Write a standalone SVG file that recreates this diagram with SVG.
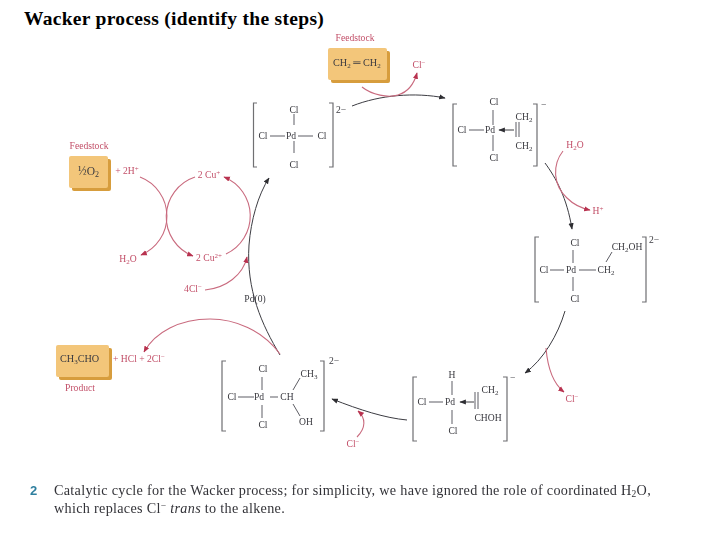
<svg xmlns="http://www.w3.org/2000/svg" width="720" height="540" viewBox="0 0 720 540">
<style>
text{font-family:"Liberation Serif","Times New Roman",serif}
.c{font-size:9.6px;fill:#3a3a40;text-anchor:middle}
.l{font-size:9.6px;fill:#3a3a40}
.m{font-size:10.2px;fill:#3a3a40}
.r{font-size:9.6px;fill:#c24f68;text-anchor:middle}
.rs{font-size:9.6px;fill:#c24f68}
.b{stroke:#6f6f72;stroke-width:1.2;fill:none}
.n{stroke:#4c4c52;stroke-width:.9;fill:none}
.k{stroke:#3c3c42;stroke-width:1;fill:none}
.p{stroke:#c96a7e;stroke-width:1.1;fill:none}
.t{fill:#f3c67a}.s{fill:#d79d3c}
.cap{font-size:14.2px;fill:#333338;letter-spacing:.3px}
</style>
<defs>
<marker id="ak" viewBox="0 0 10 10" refX="9" refY="5" markerWidth="6.5" markerHeight="6.5" orient="auto" markerUnits="userSpaceOnUse"><path d="M0 1L10 5L0 9Z" fill="#2e2e33"/></marker>
<marker id="ar" viewBox="0 0 10 10" refX="9" refY="5" markerWidth="6.5" markerHeight="6.5" orient="auto" markerUnits="userSpaceOnUse"><path d="M0 1L10 5L0 9Z" fill="#b8324f"/></marker>
<filter id="soft" x="-2%" y="-2%" width="104%" height="104%"><feGaussianBlur stdDeviation="0.35"/></filter>
</defs>
<text id="title" x="24" y="25" font-size="19.5" font-weight="bold" fill="#000" letter-spacing=".3">Wacker process (identify the steps)</text>
<g filter="url(#soft)">
<g id="connectors">
<path class="k" marker-end="url(#ak)" d="M352 106C380 95 415 92 445 98"/>
<path class="k" marker-end="url(#ak)" d="M545 163C556 178 567 198 572 229"/>
<path class="k" marker-end="url(#ak)" d="M565 311C558 335 543 360 525 373"/>
<path class="k" marker-end="url(#ak)" d="M407 420C385 418 360 410 332 399"/>
<path class="k" marker-end="url(#ak)" d="M280 355C262 325 246 290 249 245C251 220 258 195 269 178"/>
<path class="p" marker-end="url(#ar)" d="M362 87C372 95 388 98 398 95C408 92 414 84 417 73"/>
<path class="p" marker-end="url(#ar)" d="M563 151C552 165 553 185 567 198C572 203 580 208 590 210"/>
<path class="p" marker-end="url(#ar)" d="M546 348C548 372 555 385 564 392"/>
<path class="p" marker-end="url(#ar)" d="M357 437C366 428 366 418 358 411"/>
<path class="p" marker-end="url(#ar)" d="M280 354C262 330 235 319 210 319C180 319 155 332 144 352"/>
<path class="p" marker-end="url(#ar)" d="M140 177A42 42 0 0 1 141 255"/>
<path class="p" marker-end="url(#ar)" d="M195 177A42 42 0 0 0 193 256"/>
<path class="p" marker-end="url(#ar)" d="M226 254A42 42 0 0 0 224 177"/>
<path class="p" marker-end="url(#ar)" d="M205 290C226 288 243 275 247 257"/>
</g>
<g id="feedstock-top">
<text class="r" x="355" y="41">Feedstock</text>
<rect class="s" x="331" y="51" width="59" height="32" rx="2"/>
<rect class="t" x="328" y="48" width="59" height="32" rx="2"/>
<text class="m" x="333" y="66">CH<tspan font-size="7" dy="2">2</tspan><tspan dy="-2"> ═ CH</tspan><tspan font-size="7" dy="2">2</tspan></text>
</g>
<text class="r" x="419" y="68">Cl<tspan font-size="7" dy="-3">−</tspan></text>
<g id="complex-1">
<path class="b" d="M257 103H253.500V167H257M329 103H333V167H329"/>
<path class="n" d="M294 114V125M294 141V153M270 136H285M298 136H313"/>
<text class="c" x="294" y="113">Cl</text><text class="c" x="263" y="139">Cl</text><text class="c" x="291" y="139">Pd</text><text class="c" x="322" y="139">Cl</text><text class="c" x="294" y="168">Cl</text>
<text class="l" x="336" y="113">2−</text>
</g>
<g id="complex-2">
<path class="b" d="M457 104H453V166H457M533 104H537V166H533"/>
<path class="n" d="M493 110V125M493 135V151M469 130H484M516 122V137M519 122V137"/>
<path class="k" marker-end="url(#ak)" d="M514 130H499"/>
<text class="c" x="494" y="105">Cl</text><text class="c" x="462" y="133">Cl</text><text class="c" x="490" y="133">Pd</text>
<text class="c" x="524" y="120">CH<tspan font-size="7" dy="2">2</tspan></text><text class="c" x="524" y="149">CH<tspan font-size="7" dy="2">2</tspan></text>
<text class="c" x="494" y="161">Cl</text><text class="l" x="541" y="108">−</text>
</g>
<text class="r" x="575" y="148">H<tspan font-size="7" dy="2">2</tspan><tspan dy="-2">O</tspan></text>
<text class="r" x="598" y="214">H<tspan font-size="7" dy="-3">+</tspan></text>
<g id="complex-3">
<path class="b" d="M539 237H535V302H539M642 237H646V302H642"/>
<path class="n" d="M573 250V263M573 277V291M550 270H564M579 270H596M606 262L612 252"/>
<text class="c" x="575" y="246">Cl</text><text class="c" x="544" y="273">Cl</text><text class="c" x="571" y="273">Pd</text>
<text class="c" x="606" y="273">CH<tspan font-size="7" dy="2">2</tspan></text>
<text class="c" x="627" y="250">CH<tspan font-size="7" dy="2">2</tspan><tspan dy="-2">OH</tspan></text>
<text class="c" x="575" y="302">Cl</text><text class="l" x="649" y="243">2−</text>
</g>
<text class="r" x="572" y="402">Cl<tspan font-size="7" dy="-3">−</tspan></text>
<g id="complex-4">
<path class="b" d="M417 377H413V441H417M503 377H507V441H503"/>
<path class="n" d="M452 381V395M452 410V424M429 402H443M475 392V409M478 392V409"/>
<path class="k" marker-end="url(#ak)" d="M474 402H460"/>
<text class="c" x="452" y="378">H</text><text class="c" x="422" y="405">Cl</text><text class="c" x="450" y="405">Pd</text>
<text class="c" x="490" y="393">CH<tspan font-size="7" dy="2">2</tspan></text><text class="c" x="488" y="421">CHOH</text>
<text class="c" x="453" y="434">Cl</text><text class="l" x="510" y="381">−</text>
</g>
<text class="r" x="353" y="447">Cl<tspan font-size="7" dy="-3">−</tspan></text>
<g id="complex-5">
<path class="b" d="M226 361H222V431H226M320 361H324V431H320"/>
<path class="n" d="M262 377V390M262 405V418M238 397H254M270 397H278M293 390L300 378M293 404L300 416"/>
<text class="c" x="263" y="372">Cl</text><text class="c" x="232" y="400">Cl</text><text class="c" x="259" y="400">Pd</text><text class="c" x="287" y="400">CH</text>
<text class="c" x="309" y="377">CH<tspan font-size="7" dy="2">3</tspan></text><text class="c" x="306" y="425">OH</text><text class="c" x="263" y="428">Cl</text>
<text class="l" x="329" y="364">2−</text>
</g>
<g id="feedstock-left">
<text class="r" x="89" y="149">Feedstock</text>
<rect class="s" x="72" y="159" width="39" height="32" rx="2"/>
<rect class="t" x="69" y="156" width="39" height="32" rx="2"/>
<text x="78" y="175" font-size="11.5" fill="#3a3a40">½O<tspan font-size="8" dy="2">2</tspan></text>
</g>
<text class="r" x="127" y="174">+ 2H<tspan font-size="7" dy="-3">+</tspan></text>
<text class="r" x="209" y="178">2 Cu<tspan font-size="7" dy="-3">+</tspan></text>
<text class="r" x="128" y="262">H<tspan font-size="7" dy="2">2</tspan><tspan dy="-2">O</tspan></text>
<text class="r" x="209" y="261">2 Cu<tspan font-size="7" dy="-3">2+</tspan></text>
<text class="r" x="193" y="292">4Cl<tspan font-size="7" dy="-3">−</tspan></text>
<text class="c" x="255" y="302">Pd(0)</text>
<g id="product">
<rect class="s" x="59" y="348" width="53" height="32" rx="2"/>
<rect class="t" x="56" y="345" width="53" height="32" rx="2"/>
<text class="m" x="60" y="362">CH<tspan font-size="7" dy="2">3</tspan><tspan dy="-2">CHO</tspan></text>
<text class="r" x="80" y="391">Product</text>
</g>
<text class="rs" x="113" y="362">+ HCl + 2Cl<tspan font-size="7" dy="-3">−</tspan></text>
<g id="caption">
<text x="30" y="495" font-size="13" font-weight="bold" fill="#2f7f9f" style="font-family:'Liberation Sans',sans-serif">2</text>
<text class="cap" x="54" y="495">Catalytic cycle for the Wacker process; for simplicity, we have ignored the role of coordinated H<tspan font-size="9.500" dy="2">2</tspan><tspan dy="-2">O,</tspan></text>
<text class="cap" x="54" y="513">which replaces Cl<tspan font-size="9.500" dy="-4">−</tspan><tspan dy="4"> </tspan><tspan font-style="italic">trans</tspan> to the alkene.</text>
</g>
</g>
</svg>
